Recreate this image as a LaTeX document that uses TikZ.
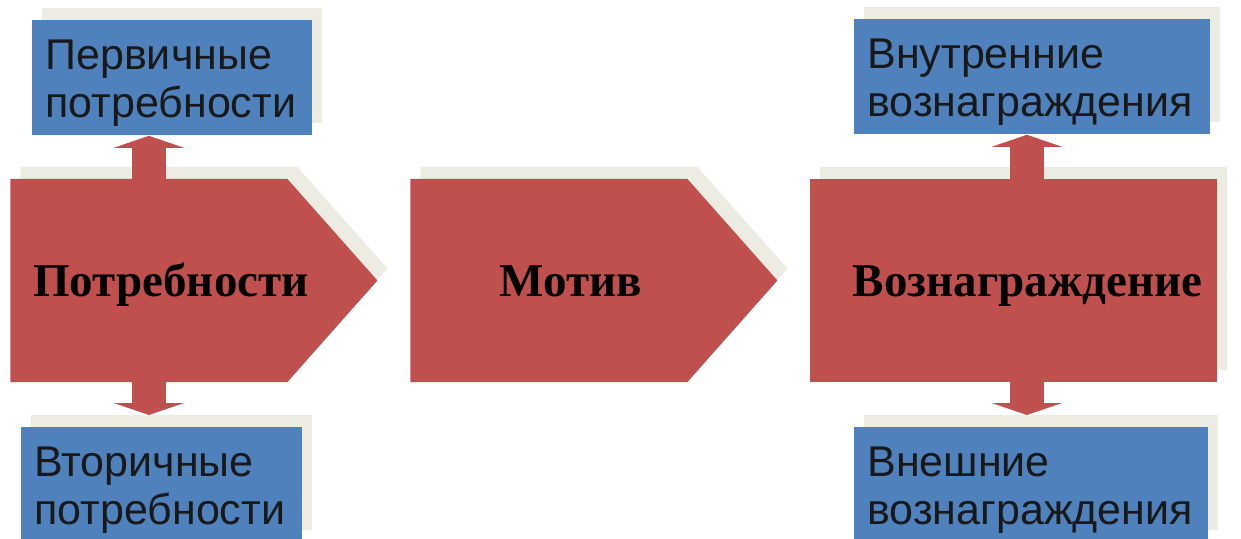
\documentclass[tikz,border=0pt]{standalone}
\usepackage{fontspec}
\setmainfont{Liberation Sans}
\newfontfamily\timesfont{Liberation Serif}
\usepackage{tikz}
\usetikzlibrary {arrows.meta,
                 positioning,
                 shadows,
                 shapes.symbols}
\definecolor{redfill}{HTML}{C0504D}
\definecolor{bluefill}{HTML}{4F81BD}
\definecolor{shadowc}{HTML}{ECECE3}
\tikzset{
        shade/.style={drop shadow={shadow xshift=5pt, shadow yshift=6pt,
                      fill=shadowc, opacity=1}},
        bluebox/.style={shade, fill=bluefill, anchor=north west, inner xsep=6.5pt,
                        minimum height=57.5pt, align=left, text=black!90,
                        execute at begin node={\rule{0pt}{20.5pt}},
                        font=\fontsize{21.5pt}{24pt}\selectfont},
        pointer/.style={shade, signal, signal to=east, signal pointer angle=96.9,
                        fill=redfill, anchor=west, inner sep=0pt,
                        minimum width=183.5pt, minimum height=101.5pt},
        plainbox/.style={shade, rectangle, fill=redfill, anchor=west, inner sep=0pt,
                         minimum width=203.5pt, minimum height=101.5pt},
        bigtext/.style={anchor=base, inner sep=0pt,
                        font=\timesfont\bfseries\fontsize{23.5pt}{28pt}\selectfont},
        blockarrow/.style={draw=redfill, line width=17pt,
                           -{Triangle[width=35pt, length=6pt]}},
 }
\begin{document}
\begin{tikzpicture}[x=0.5pt, y=-0.5pt]
    \useasboundingbox (0,0) rectangle (1241,539);
    \node[pointer] (need) at (10,280.5) {};
    \node[pointer] (motive) at (410,280.5) {};
    \node[plainbox] (reward) at (810,280.5) {};
    \node[bigtext] (needtxt) at (171,297) {Потребности};
    \node[bigtext] (motivetxt) at (571,297) {Мотив};
    \node[bigtext] (rewardtxt) at (1027.5,297) {Вознаграждение};
    \node[bluebox, text width=127pt] (prim) at (32,20) {Первичные\\потребности};
    \node[bluebox, text width=127.5pt] (sec) at (21,427) {Вторичные\\потребности};
    \node[bluebox, text width=165pt] (inner) at (854,19) {Внутренние\\вознаграждения};
    \node[bluebox, text width=164pt] (outer) at (854,427) {Внешние\\вознаграждения};
    \draw[blockarrow] (need.north) -- (need.north |- prim.south);
    \draw[blockarrow] (need.south) -- ([yshift=6pt]need.south |- sec.north);
    \draw[blockarrow] ([xshift=6.5pt]reward.north) -- ([xshift=6.5pt]reward.north |- inner.south);
    \draw[blockarrow] ([xshift=6.5pt]reward.south) -- ([xshift=6.5pt,yshift=6pt]reward.south |- outer.north);
\end{tikzpicture}
\end{document}
